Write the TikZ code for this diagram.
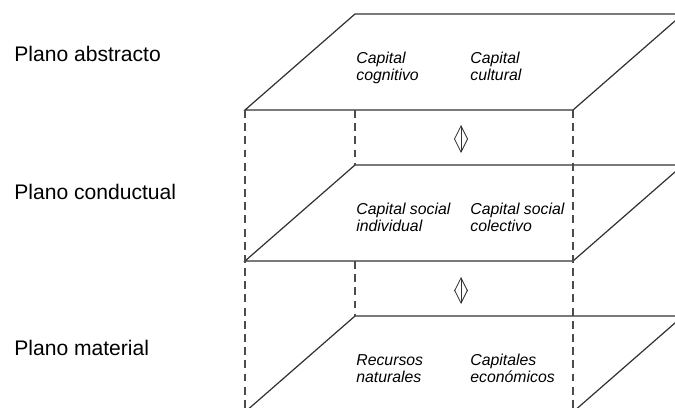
\documentclass[tikz,border=0pt]{standalone}
\usepackage{fontspec}
\setmainfont{Liberation Sans}
\usetikzlibrary{arrows.meta}

\begin{document}
\begin{tikzpicture}[x=0.02cm,y=-0.02cm,every text node part/.style={align=left}]
		\tikzstyle{edge}=[draw=black!80,line width=0.7pt]
		\tikzstyle{hidden}=[draw=black!70,line width=0.6pt,
							dash pattern=on 4.5pt off 3pt]
		\tikzstyle{capital}=[anchor=north west,inner sep=0pt,
							font={\fontsize{9}{9.6}\selectfont\itshape}]
		\tikzstyle{plano}=[anchor=base west,inner sep=0pt,
							font={\fontsize{12}{14}\selectfont}]
		\tikzstyle{link}=[draw=black!80,line width=0.5pt,
							{Straight Barb[length=7.5pt,width=7.5pt]}-{Straight Barb[length=7.5pt,width=7.5pt]}]

		\useasboundingbox (0,0) rectangle (675,408);
		\clip (0,0) rectangle (675,408);

		% planes
		\foreach \p/\t in {1/14, 2/165, 3/316} {
			\coordinate (B\p) at (355,\t);
			\coordinate (C\p) at (683,\t);
			\coordinate (D\p) at (573,\t+96);
			\coordinate (A\p) at (245,\t+96);
			\draw[edge] (A\p) -- (B\p) -- (C\p) -- (D\p) -- cycle;
		}
		\coordinate (A4) at (245,420);
		\coordinate (D4) at (573,420);

		% hidden edges
		\draw[hidden] (A1) -- (A4);
		\draw[hidden] (D1) -- (D4);
		\draw[hidden] (B1 |- A1) -- (B2);
		\draw[hidden] (B2 |- A2) -- (B3);

		% links
		\coordinate (u1) at (461,125);
		\coordinate (l1) at (461,153);
		\coordinate (u2) at (461,277);
		\coordinate (l2) at (461,304);
		\draw[link] (u1) -- (l1);
		\draw[link] (u2) -- (l2);

		% planos
		\node[plano] (abstracto) at (14,62) {Plano abstracto};
		\node[plano] (conductual) at (14,200) {Plano conductual};
		\node[plano] (material) at (14,355) {Plano material};

		% capitales
		\node[capital] (cognitivo) at (356,52) {Capital\\cognitivo};
		\node[capital] (cultural) at (470,52) {Capital\\cultural};
		\node[capital] (individual) at (356,203) {Capital social\\individual};
		\node[capital] (colectivo) at (470,203) {Capital social\\colectivo};
		\node[capital] (naturales) at (356,354) {Recursos\\naturales};
		\node[capital] (economicos) at (470,354) {Capitales\\económicos};

	\end{tikzpicture}
\end{document}
